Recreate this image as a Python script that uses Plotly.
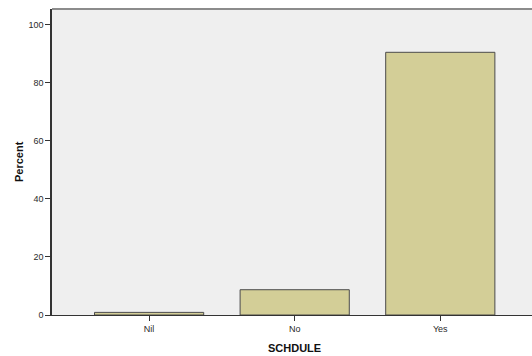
import plotly.graph_objects as go

categories = ["Nil", "No", "Yes"]
percent = [0.9, 8.7, 90.4]
y_ticks = [0, 20, 40, 60, 80, 100]

fig = go.Figure(go.Bar(
    x=categories, y=percent, width=0.75,
    marker=dict(color="#D3CE97", line=dict(color="#4a4a4a", width=1)),
))

fig.update_layout(
    width=532, height=356,
    margin=dict(l=52, r=0, t=9, b=41, autoexpand=False),
    paper_bgcolor="white", plot_bgcolor="#EFEFEF",
    font=dict(family="Liberation Sans, Arial, sans-serif", size=9, color="#2a2a2a"),
    showlegend=False,
    shapes=[dict(type="line", xref="paper", yref="paper", x0=0, x1=1, y0=1, y1=1,
                 line=dict(color="#8c8c8c", width=2))],
    annotations=[
        dict(text="<b>SCHDULE</b>", xref="x", yref="paper", x=1, y=0, yshift=-33,
             showarrow=False, font=dict(size=11, color="#111"), yanchor="middle"),
        dict(text="<b>Percent</b>", xref="paper", yref="paper", x=0, xshift=-33,
             y=0.5, textangle=-90, showarrow=False,
             font=dict(size=11, color="#111"), xanchor="center"),
    ],
)
fig.update_xaxes(
    range=[-0.667, 2.63], showgrid=False, ticks="outside", ticklen=5,
    tickcolor="#333", showline=True, linecolor="#333", linewidth=1,
    automargin=False,
)
fig.update_yaxes(
    range=[0, 105.3], tickvals=y_ticks, showgrid=False, zeroline=False,
    ticks="outside", ticklen=5, tickcolor="#333", showline=True,
    linecolor="#333", linewidth=1.5, automargin=False,
)

fig.write_html(
    "out.html",
    config={"displayModeBar": False},
    post_script="document.body.style.margin='0';document.body.style.overflow='hidden';",
)
